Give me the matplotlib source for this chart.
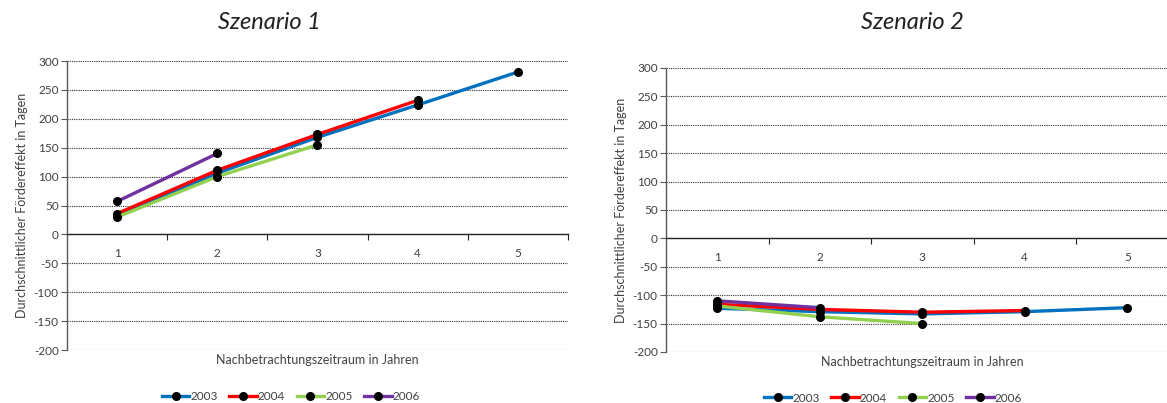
import matplotlib
matplotlib.use("Agg")
import matplotlib.pyplot as plt
from matplotlib.lines import Line2D

plt.rcParams['font.family'] = ['Lato', 'DejaVu Sans']

years = ["2003", "2004", "2005", "2006"]
colors = ["#0070C0", "#FF0000", "#92D050", "#7030A0"]
categories = [1, 2, 3, 4, 5]

# Szenario 1: average effect per follow-up year
s1_2003 = [33, 106, 168, 224, 281]
s1_2004 = [36, 111, 173, 232]
s1_2005 = [30, 100, 155]
s1_2006 = [57, 140]

# Szenario 2
s2_2003 = [-123, -129, -133, -129, -122]
s2_2004 = [-116, -125, -130, -127]
s2_2005 = [-119, -138, -150]
s2_2006 = [-110, -122]

yticks = [300, 250, 200, 150, 100, 50, 0, -50, -100, -150, -200]
xlabel = "Nachbetrachtungszeitraum in Jahren"
ylabel = "Durchschnittlicher Fördereffekt in Tagen"

fig = plt.figure(figsize=(11.67, 4.03), dpi=100)
ax1 = fig.add_axes([0.0574, 0.1315, 0.4293, 0.7171])
ax2 = fig.add_axes([0.5707, 0.1266, 0.4392, 0.7047])

text_col = "#404040"
LW = 2.4
MS = 5.5


def draw(ax, series, title, title_x):
    for vals, c in zip(series, colors):
        ax.plot(categories[:len(vals)], vals, color=c, lw=LW,
                marker="o", markersize=MS, markerfacecolor="black",
                markeredgecolor="black", solid_capstyle="butt", zorder=3)
    ax.set_xlim(0.5, 5.5)
    ax.set_ylim(-200, 300)
    ax.set_yticks(yticks)
    ax.set_yticklabels([str(v) for v in yticks])
    for v in yticks:
        if v != 0:
            ax.axhline(v, color="#303030", lw=0.8, ls=(0, (1, 1)), zorder=1)
    for s in ["top", "right"]:
        ax.spines[s].set_visible(False)
    ax.spines["left"].set_color("#595959")
    ax.spines["left"].set_linewidth(1.0)
    ax.spines["bottom"].set_position(("data", 0))
    ax.spines["bottom"].set_color("#222222")
    ax.spines["bottom"].set_linewidth(1.0)
    ax.set_xticks([1.5, 2.5, 3.5, 4.5, 5.5])
    ax.set_xticklabels([])
    ax.tick_params(axis="x", which="major", direction="out", length=4,
                   color="#222222")
    ax.set_xticks(categories, minor=True)
    ax.set_xticklabels([str(c) for c in categories], minor=True)
    ax.tick_params(axis="x", which="minor", length=0, pad=10,
                   labelsize=8.5, labelcolor=text_col)
    ax.tick_params(axis="y", length=4, direction="out", color="#595959",
                   labelsize=8.5, labelcolor=text_col, pad=2)
    ax.text(0.5, -0.035, xlabel, transform=ax.transAxes, ha="center",
            va="center", fontsize=9, color=text_col)
    ax.set_ylabel(ylabel, fontsize=9, color=text_col, labelpad=4)
    fig.text(title_x, 0.945, title, fontsize=17, style="italic",
             color="#202020", ha="center", va="center")


draw(ax1, [s1_2003, s1_2004, s1_2005, s1_2006], "Szenario 1", 269 / 1167)
draw(ax2, [s2_2003, s2_2004, s2_2005, s2_2006], "Szenario 2", 912 / 1167)

handles = [Line2D([], [], color=c, lw=LW, marker="o", markersize=MS,
                  markerfacecolor="black", markeredgecolor="black")
           for c in colors]
for xc, yc in [(291 / 1167, 6 / 403), (893 / 1167, 5 / 403)]:
    fig.legend(handles, years, loc="center", bbox_to_anchor=(xc, yc),
               ncol=4, frameon=False, fontsize=8.5, handlelength=2.3,
               handletextpad=0.1, columnspacing=1.0, labelcolor=text_col,
               borderpad=0, borderaxespad=0)

fig.savefig("out.png", dpi=100)
